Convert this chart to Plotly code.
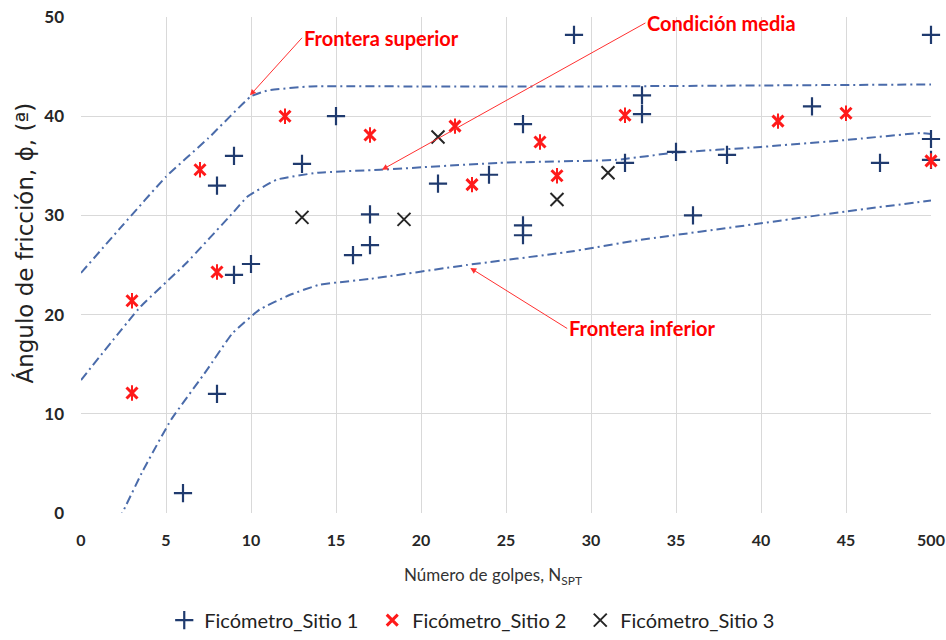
import plotly.graph_objects as go

# ---- data ----
s1_x = [6, 8, 8, 9, 9, 10, 13, 15, 16, 17, 17, 21, 24, 26, 26, 26, 29, 32, 33, 33, 35, 36, 38, 43, 47, 50, 50, 50]
s1_y = [2, 12, 33, 36, 24, 25.1, 35.2, 40, 26, 30.1, 27, 33.2, 34.1, 39.2, 29, 28, 48.2, 35.3, 42.1, 40.2, 36.4, 30, 36.1, 41, 35.3, 48.2, 37.7, 35.6]

s2_x = [3, 3, 7, 8, 12, 17, 22, 23, 27, 28, 32, 41, 45, 50]
s2_y = [21.4, 12.1, 34.6, 24.3, 40, 38.1, 39, 33.1, 37.4, 34, 40.1, 39.5, 40.3, 35.5]

s3_x = [13, 19, 21, 28, 31]
s3_y = [29.8, 29.6, 37.9, 31.6, 34.3]

up_x = [0, 2.5, 5, 7.5, 10, 11, 13.5, 20, 30, 40, 50]
up_y = [24.2, 29.1, 33.9, 37.8, 42, 42.6, 43, 43, 43, 43.1, 43.2]

mid_x = [0, 3.5, 6.2, 8.9, 9.8, 11.5, 13.9, 17.6, 24.6, 31.5, 34.8, 40, 45, 49.4, 50]
mid_y = [13.4, 20.8, 25.2, 30.2, 31.9, 33.6, 34.3, 34.6, 35.3, 35.6, 36.3, 36.9, 37.6, 38.3, 38.2]

low_x = [2.2, 2.6, 3.65, 5.3, 7.4, 8.9, 10.5, 12.3, 14, 17, 22.7, 28.6, 32.8, 40, 45, 50]
low_y = [-0.8, 0.6, 4.3, 9.4, 14.4, 18.1, 20.5, 22, 23, 23.6, 25, 26.3, 27.5, 29.2, 30.4, 31.5]

x_ticks = [0, 5, 10, 15, 20, 25, 30, 35, 40, 45, 50]
x_ticklabels = ["0", "5", "10", "15", "20", "25", "30", "35", "40", "45", "500"]
y_ticks = [0, 10, 20, 30, 40, 50]

labels = ["Frontera superior", "Condición media", "Frontera inferior"]
arrow_tip_x = [9.94, 17.7, 22.9]
arrow_tip_y = [42.1, 34.6, 24.7]
label_x = [13.0, 33.2, 28.6]
label_y = [47.9, 49.4, 18.6]

CURVE = "#4A6BAA"
NAVY = "#1F3A6E"
RED = "#FF1A1A"
DASH = "9px,4px,2px,4px"

fig = go.Figure()

for cx, cy in [(up_x, up_y), (mid_x, mid_y), (low_x, low_y)]:
    fig.add_trace(go.Scatter(x=cx, y=cy, mode="lines", showlegend=False, hoverinfo="skip",
                             line=dict(color=CURVE, width=2, dash=DASH, shape="spline", smoothing=0.35)))

fig.add_trace(go.Scatter(x=s1_x, y=s1_y, mode="markers", name="Ficómetro_Sitio 1", cliponaxis=False,
                         marker=dict(symbol="cross-thin", size=13, line=dict(color=NAVY, width=2.2))))
fig.add_trace(go.Scatter(x=s2_x, y=s2_y, mode="markers", name="Ficómetro_Sitio 2", cliponaxis=False,
                         marker=dict(symbol="x-thin", size=11, line=dict(color=RED, width=3))))
fig.add_trace(go.Scatter(x=s2_x, y=s2_y, mode="markers", showlegend=False, cliponaxis=False,
                         marker=dict(symbol="line-ns", size=11, line=dict(color=RED, width=2))))
fig.add_trace(go.Scatter(x=s3_x, y=s3_y, mode="markers", name="Ficómetro_Sitio 3", cliponaxis=False,
                         marker=dict(symbol="x-thin", size=13, line=dict(color="#262626", width=2))))

for i in range(3):
    fig.add_annotation(x=arrow_tip_x[i], y=arrow_tip_y[i], ax=label_x[i], ay=label_y[i],
                       xref="x", yref="y", axref="x", ayref="y", text="<b>" + labels[i] + "</b>",
                       showarrow=True, xanchor="left", yanchor="middle",
                       arrowhead=2, arrowsize=1.2, arrowwidth=1, arrowcolor="#FF3030", standoff=0,
                       font=dict(family="Lato", size=20, color="#FF0000"))

fig.add_annotation(x=-0.066, y=0.545, xref="paper", yref="paper", text="Ángulo de fricción, ϕ, (ª)",
                   textangle=-90, showarrow=False, xanchor="center", yanchor="middle",
                   font=dict(family="DejaVu Sans", size=23, color="#222222"))
fig.add_annotation(x=0.485, y=-0.128, xref="paper", yref="paper",
                   text="Número de golpes, N<sub>SPT</sub>", showarrow=False,
                   xanchor="center", yanchor="middle",
                   font=dict(family="Lato", size=17, color="#333333"))

fig.update_layout(
    width=946, height=640,
    margin=dict(l=81, r=15, t=17, b=127, autoexpand=False),
    plot_bgcolor="white", paper_bgcolor="white",
    font=dict(family="Lato", color="#333333"),
    legend=dict(orientation="h", x=0.465, xanchor="center", y=-0.216, yanchor="middle",
                font=dict(family="Lato", size=20, color="#222222"),
                entrywidth=163, entrywidthmode="pixels", itemwidth=30),
    showlegend=True,
)
fig.update_xaxes(range=[0, 50], tickvals=x_ticks, ticktext=x_ticklabels, showgrid=True,
                 gridcolor="#D9D9D9", gridwidth=1, zeroline=False, showline=False, automargin=False,
                 tickfont=dict(family="Lato", size=16, color="#262626", weight="bold"),
                 ticks="", ticklabelstandoff=16)
fig.update_yaxes(range=[0, 50], tickvals=y_ticks, showgrid=True,
                 gridcolor="#D9D9D9", gridwidth=1, zeroline=False, showline=False, automargin=False,
                 tickfont=dict(family="Lato", size=17, color="#262626", weight="bold"),
                 ticks="", ticklabelstandoff=16)

fig.write_html("out.html")
